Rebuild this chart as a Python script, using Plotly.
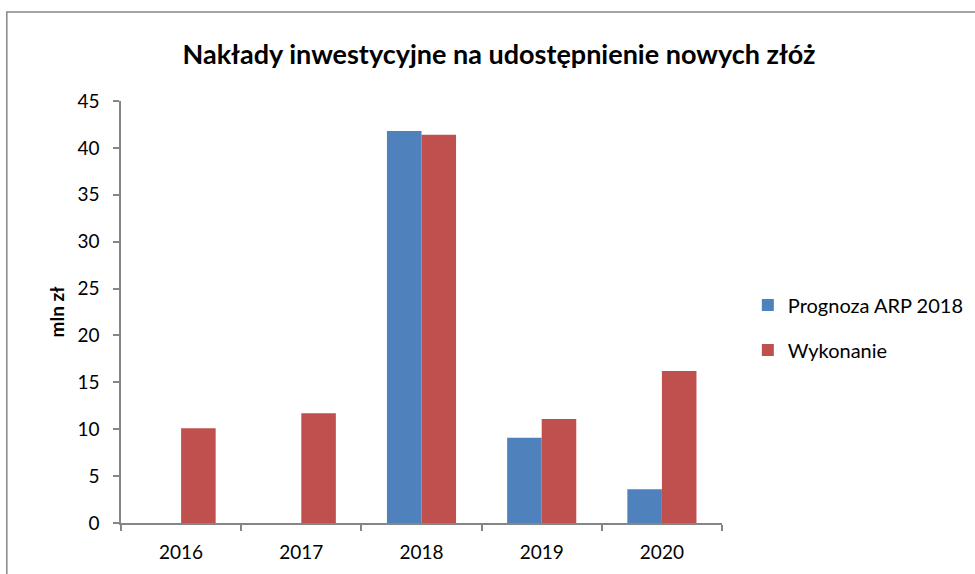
import plotly.graph_objects as go

years = ["2016", "2017", "2018", "2019", "2020"]
prognoza = [None, None, 41.8, 9.1, 3.6]
wykonanie = [10.1, 11.7, 41.4, 11.1, 16.2]

font = "Lato, 'Open Sans', sans-serif"
axis_gray = "#868686"

fig = go.Figure()
fig.add_trace(go.Bar(x=years, y=prognoza, name="Prognoza ARP 2018", legendgroup="a",
                     marker=dict(color="#4F81BD", line=dict(width=0))))
fig.add_trace(go.Bar(x=years, y=wykonanie, name="Wykonanie", legendgroup="b",
                     marker=dict(color="#C0504D", line=dict(width=0))))

# outer chart frame (left and top edges are visible in the picture)
fig.add_shape(type="rect", xref="paper", yref="paper",
              x0=-0.19, x1=1.45, y0=-0.2, y1=1.211,
              line=dict(color=axis_gray, width=1.5), layer="below")

fig.update_layout(
    width=975, height=574,
    margin=dict(l=121, r=253, t=101, b=51, autoexpand=False),
    paper_bgcolor="white", plot_bgcolor="white",
    barmode="group", bargap=0.425, bargroupgap=0,
    font=dict(family=font, size=18, color="#000000"),
    title=dict(text="<b>Nakłady inwestycyjne na udostępnienie nowych złóż</b>",
               x=499 / 975, xref="container", xanchor="center",
               y=1 - 55 / 574, yref="container", yanchor="middle",
               font=dict(size=27)),
    showlegend=True,
    legend=dict(x=1.043, y=0.463, xanchor="left", yanchor="middle",
                font=dict(size=20), itemsizing="constant",
                tracegroupgap=16, itemwidth=30),
    xaxis=dict(showline=True, linecolor=axis_gray, linewidth=1.5,
               ticks="outside", tickson="boundaries", ticklen=6,
               tickcolor=axis_gray, tickwidth=1.5, showgrid=False,
               tickfont=dict(size=19), ticklabelstandoff=11),
    yaxis=dict(range=[0, 45], dtick=5, showline=True, linecolor=axis_gray,
               linewidth=1.5, ticks="outside", ticklen=6,
               tickcolor=axis_gray, tickwidth=1.5, showgrid=False,
               zeroline=False, tickfont=dict(size=19), ticklabelstandoff=10,
               title=dict(text="<b>mln zł</b>", font=dict(size=19), standoff=8)),
)

fig.write_html("out.html", config={"displayModeBar": False},
               post_script="document.body.style.margin='0';")
